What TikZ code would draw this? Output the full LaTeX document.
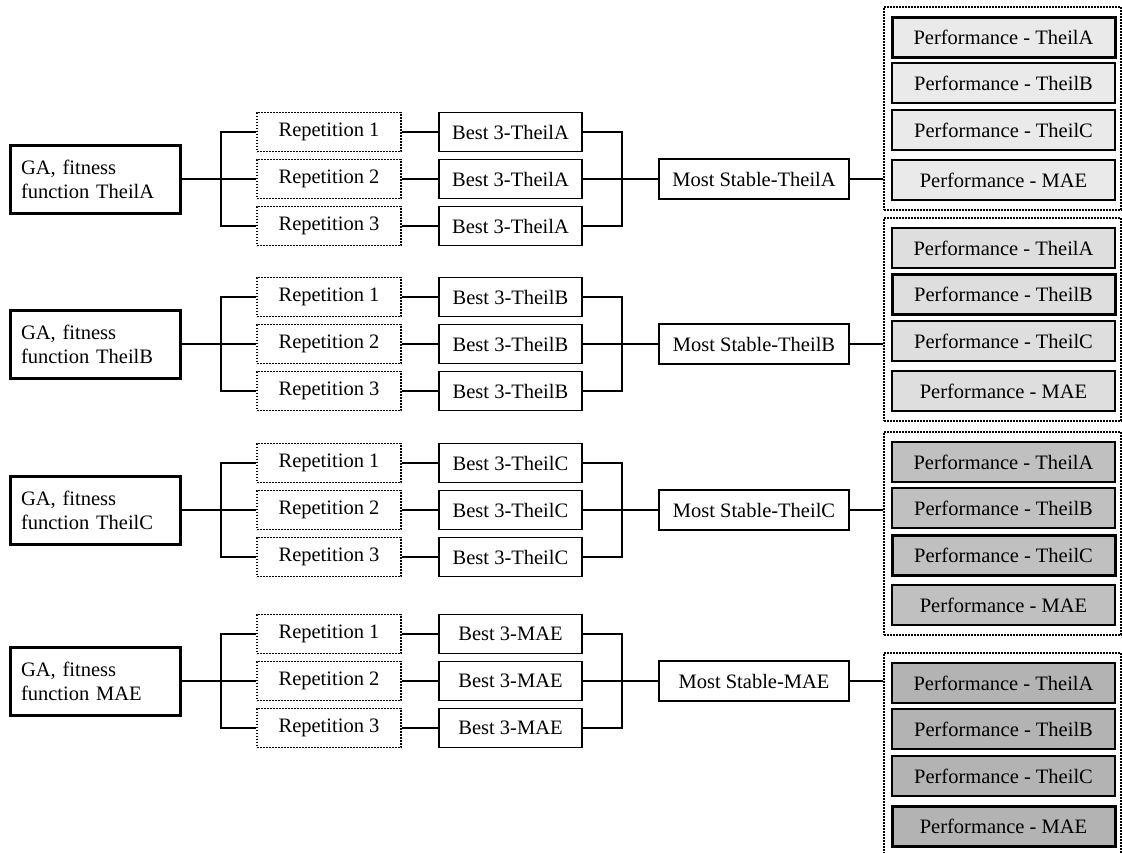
\documentclass[tikz,border=0pt]{standalone}
\usepackage{fontspec}
\setmainfont{Liberation Serif}
\definecolor{fillA}{HTML}{EAEAEA}
\definecolor{fillB}{HTML}{DEDEDE}
\definecolor{fillC}{HTML}{C0C0C0}
\definecolor{fillD}{HTML}{B3B3B3}
\begin{document}
\begin{tikzpicture}[x=1pt,y=-1pt,
  font=\fontsize{20.5}{24}\selectfont,
  gabox/.style={draw, line width=3pt, minimum width=170pt, minimum height=68pt,
    text width=148pt, align=left, inner xsep=11pt, inner ysep=0pt},
  repbox/.style={draw, line width=1.6pt, dash pattern=on 1.6pt off 1.4pt,
    minimum width=144pt, minimum height=39pt, inner sep=0pt},
  bestbox/.style={draw, line width=1.4pt, minimum width=143pt, minimum height=39pt, inner sep=0pt},
  msbox/.style={draw, line width=1.4pt, minimum width=190pt, minimum height=40pt, inner sep=0pt},
  contbox/.style={draw, line width=1.6pt, dash pattern=on 1.6pt off 1.4pt,
    minimum width=237pt, minimum height=203pt, inner sep=0pt},
  perfbox/.style={draw, minimum width=223pt, minimum height=40pt, inner sep=0pt},
  conn/.style={line width=1.4pt}]
\useasboundingbox (0,0) rectangle (1122,852);
\foreach \g/\cy/\nm/\py/\fc/\hl in {1/179/TheilA/37/fillA/1, 2/344/TheilB/248/fillB/2, 3/510/TheilC/462/fillC/3, 4/681/MAE/683/fillD/4}{
  \node[gabox] (ga\g) at (95,\cy) {GA, fitness\\function \nm};
  \node[repbox] (rep\g a) at (329,{\cy-47}) {Repetition 1};
  \node[repbox] (rep\g b) at (329,\cy) {Repetition 2};
  \node[repbox] (rep\g c) at (329,{\cy+47}) {Repetition 3};
  \node[bestbox] (best\g a) at (510.5,{\cy-47}) {Best 3-\nm};
  \node[bestbox] (best\g b) at (510.5,\cy) {Best 3-\nm};
  \node[bestbox] (best\g c) at (510.5,{\cy+47}) {Best 3-\nm};
  \node[msbox] (ms\g) at (754,\cy) {Most Stable-\nm};
  \coordinate (lb\g) at (221,\cy);
  \coordinate (rb\g) at (622,\cy);
  \node[contbox] (cont\g) at (1002.5,{\py+71.5}) {};
  \foreach \k/\pn/\off in {1/TheilA/0, 2/TheilB/46, 3/TheilC/93, 4/MAE/143}{
    \ifnum\k=\hl \def\lw{3pt}\else\def\lw{1.4pt}\fi
    \node[perfbox, line width=\lw, fill=\fc] (perf\g-\k) at (1003.5,{\py+\off}) {Performance - \pn};
  }
  \draw[conn] (ga\g.east) -- (rep\g b.west);
  \draw[conn] (rep\g a.west) -| (lb\g) |- (rep\g c.west);
  \draw[conn] (rep\g a.east) -- (best\g a.west);
  \draw[conn] (rep\g b.east) -- (best\g b.west);
  \draw[conn] (rep\g c.east) -- (best\g c.west);
  \draw[conn] (best\g a.east) -| (rb\g) |- (best\g c.east);
  \draw[conn] (best\g b.east) -- (ms\g.west);
  \draw[conn] (ms\g.east) -- (ms\g.east -| cont\g.west);
}
\end{tikzpicture}
\end{document}
